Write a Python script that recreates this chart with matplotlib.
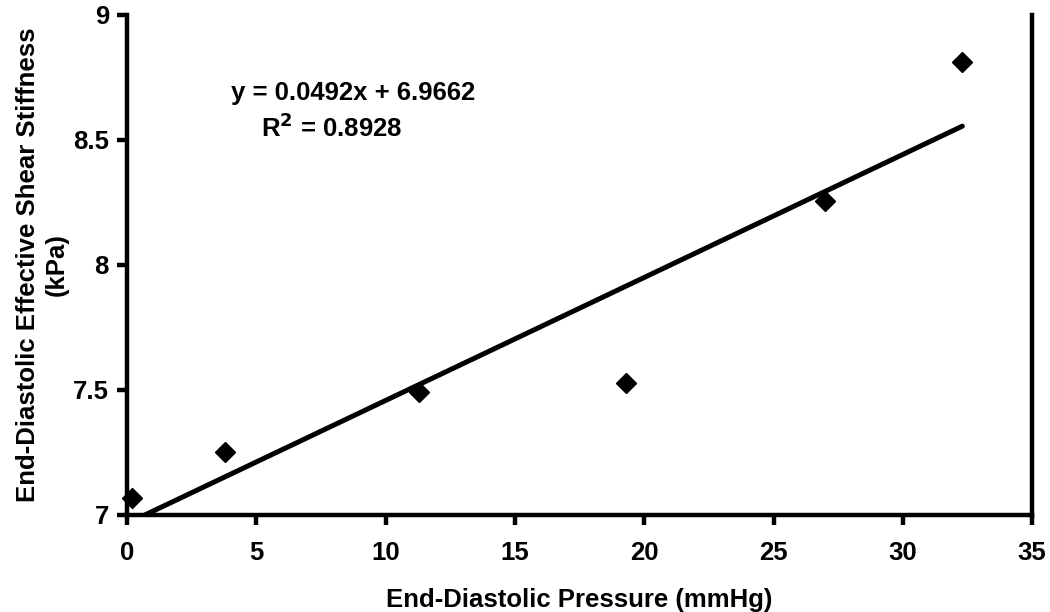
import numpy as np
import matplotlib
matplotlib.use('Agg')
import matplotlib.pyplot as plt

# ── Data ──────────────────────────────────────────────────────────────────
pressure  = [0.2, 3.8, 11.3, 19.3, 27.0, 32.3]        # mmHg
stiffness = [7.066, 7.252, 7.490, 7.528, 8.255, 8.812]  # kPa

# Trendline as printed on the chart
slope     = 0.0492
intercept = 6.9662
r2        = 0.8928

x_ticks = [0, 5, 10, 15, 20, 25, 30, 35]
y_ticks = [7, 7.5, 8, 8.5, 9]
y_tick_labels = ['7', '7.5', '8', '8.5', '9']

plt.rcParams['font.family'] = ['Liberation Sans', 'DejaVu Sans']
plt.rcParams['font.weight'] = 'bold'
FS = 18.5

fig = plt.figure(figsize=(10.5, 6.12), dpi=100)
ax = fig.add_axes([0.121, 0.1585, 0.862, 0.817])

# trend line over the data range (clipped by the axes at y=7)
x_fit = np.array([min(pressure), max(pressure)])
ax.plot(x_fit, slope * x_fit + intercept, color='black', linewidth=3.6,
        solid_capstyle='round', zorder=2)

ax.plot(pressure, stiffness, linestyle='none', marker='D', markersize=10.5,
        color='black', clip_on=False, zorder=3)

ax.set_xlim(0, 35)
ax.set_ylim(7, 9)
ax.set_xticks(x_ticks)
ax.set_yticks(y_ticks)
ax.set_yticklabels(y_tick_labels)

for side in ['left', 'bottom', 'right', 'top']:
    ax.spines[side].set_linewidth(3.2)
ax.spines['top'].set_visible(False)

ax.tick_params(axis='both', direction='out', length=7, width=3.2,
               labelsize=FS)
ax.tick_params(axis='x', pad=12)
ax.tick_params(axis='y', pad=6)
for lbl in ax.get_xticklabels() + ax.get_yticklabels():
    lbl.set_fontweight('bold')

ax.set_xlabel('End-Diastolic Pressure (mmHg)', fontsize=FS,
              fontweight='bold', labelpad=16)
ax.set_ylabel('End-Diastolic Effective Shear Stiffness\n(kPa)', fontsize=FS,
              fontweight='bold', labelpad=3, linespacing=1.25)

ax.text(8.74, 8.688, f'y = {slope}x + {intercept}', fontsize=FS,
        fontweight='bold', ha='center', va='center')
ax.text(7.93, 8.548, f'R$^\\mathbf{{2}}$ = {r2}', fontsize=FS,
        fontweight='bold', ha='center', va='center')

fig.savefig('out.png', dpi=100)
